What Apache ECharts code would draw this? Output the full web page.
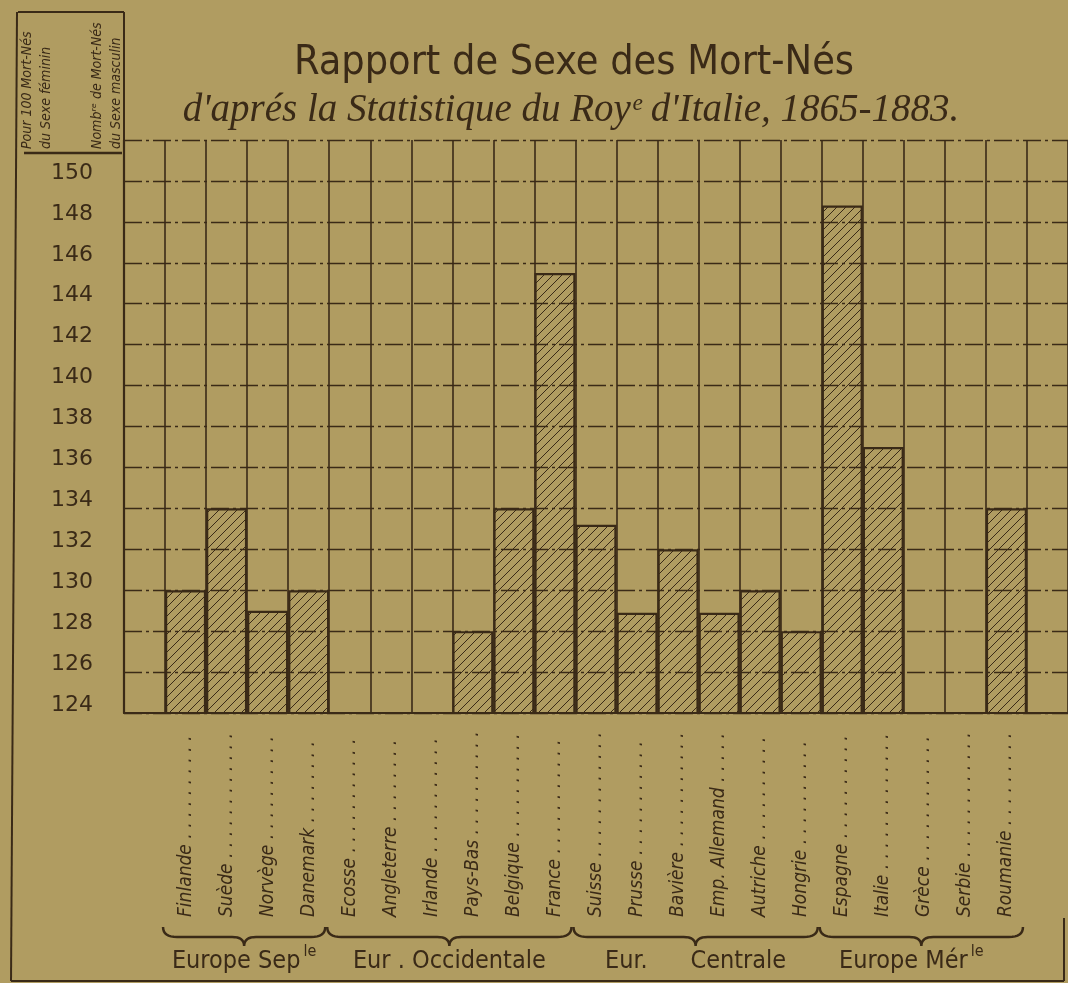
<!DOCTYPE html>
<html>
<head>
<meta charset="utf-8">
<script src="https://cdn.jsdelivr.net/npm/echarts@6/dist/echarts.min.js"></script>
<style>
html,body{margin:0;padding:0;background:#b09c61;}
#c{width:1068px;height:983px;}
</style>
</head>
<body>
<div id="c"></div>
<script>
// ---- data ----
const categories = ['', 'Finlande', 'Suède', 'Norvège', 'Danemark', 'Ecosse', 'Angleterre', 'Irlande',
  'Pays-Bas', 'Belgique', 'France', 'Suisse', 'Prusse', 'Bavière', 'Emp. Allemand', 'Autriche',
  'Hongrie', 'Espagne', 'Italie', 'Grèce', 'Serbie', 'Roumanie', ''];
const values = [null, 130, 134, 129, 130, null, null, null,
  128, 134, 145.5, 133.2, 128.9, 132, 128.9, 130,
  128, 148.8, 137, null, null, 134, null];
const groupNames = ['Europe Sep', 'Eur . Occidentale', 'Eur.      Centrale', 'Europe Mér'];
const groupSup = ['le', '', '', 'le'];
const groupSizes = [4, 6, 6, 5];
const yMin = 124, yMax = 152, yStep = 2;
const titleText = 'Rapport de Sexe des Mort-Nés';
const subTitleText = "d'aprés la Statistique du Royᵉ d'Italie, 1865-1883.";
const headerLines = ['Pour 100 Mort-Nés', 'du Sexe féminin', 'Nombʳᵉ de Mort-Nés', 'du Sexe masculin'];

// ---- styles ----
const INK = '#3a2a17';
const BG = '#b09c61';
const COND = '"DejaVu Sans Condensed", "Liberation Sans Narrow", "DejaVu Sans", sans-serif';
const LABEL_FONT_SIZE = 19;
const LABEL_FAMILY = '"DejaVu Sans Condensed", "DejaVu Sans"';

function hatch() {
  const c = document.createElement('canvas');
  c.width = 9; c.height = 9;
  const g = c.getContext('2d');
  g.strokeStyle = INK; g.lineWidth = 1;
  g.beginPath();
  g.moveTo(-1, 10); g.lineTo(10, -1);
  g.moveTo(-1, 1); g.lineTo(1, -1);
  g.moveTo(8, 10); g.lineTo(10, 8);
  g.stroke();
  return c;
}

const mctx = document.createElement('canvas').getContext('2d');
mctx.font = 'italic ' + LABEL_FONT_SIZE + 'px ' + LABEL_FAMILY;
function withLeader(name) {
  if (!name) return '';
  const target = 192;
  let s = name + ' ';
  while (mctx.measureText(s + '. ').width < target) s += '. ';
  return s;
}

const chart = echarts.init(document.getElementById('c'), null, {renderer: 'canvas'});
chart.setOption({
  backgroundColor: BG,
  animation: false,
  title: [
    {text: titleText, left: 569, top: 38, textAlign: 'center',
     textStyle: {color: INK, fontFamily: COND, fontSize: 41, fontWeight: 'normal'}},
    {text: subTitleText, left: 566, top: 86, textAlign: 'center',
     textStyle: {color: INK, fontFamily: '"Liberation Serif", serif', fontStyle: 'italic', fontSize: 39, fontWeight: 'normal'}}
  ],
  grid: {left: 124, right: 0, top: 140, bottom: 270, containLabel: false},
  xAxis: {
    type: 'category',
    data: categories,
    boundaryGap: true,
    axisLine: {show: true, lineStyle: {color: INK, width: 2.2}},
    axisTick: {show: false},
    splitLine: {show: true, interval: 0, lineStyle: {color: INK, width: 1.6}},
    axisLabel: {
      interval: 0, rotate: 90, align: 'left', verticalAlign: 'middle', margin: 204,
      color: INK, fontSize: LABEL_FONT_SIZE, fontFamily: LABEL_FAMILY, fontStyle: 'italic',
      formatter: v => withLeader(v)
    }
  },
  yAxis: {
    type: 'value', min: yMin, max: yMax, interval: yStep,
    axisLine: {show: true, lineStyle: {color: INK, width: 2.2}},
    axisTick: {show: false},
    splitLine: {show: true, lineStyle: {color: INK, width: 1.4, type: [18, 4, 3, 4]}},
    axisLabel: {
      color: INK, fontSize: 22, fontFamily: '"DejaVu Sans"', align: 'center', margin: 52,
      verticalAlign: 'bottom', lineHeight: 16,
      formatter: v => (v > 150 ? '' : String(v))
    }
  },
  series: [{
    type: 'bar',
    data: values,
    barCategoryGap: '0%',
    itemStyle: {color: {image: hatch(), repeat: 'repeat'}, borderColor: INK, borderWidth: 2.2}
  }]
});

// ---- decorative frame, header & group braces (positions taken from the axis) ----
const px = i => chart.convertToPixel({xAxisIndex: 0}, i);
const band = px(2) - px(1);
const graphics = [];
const lineStyle = {stroke: INK, lineWidth: 2};
graphics.push({type: 'line', shape: {x1: 124, y1: 12, x2: 124, y2: 141}, style: lineStyle});
graphics.push({type: 'line', shape: {x1: 18, y1: 12, x2: 124, y2: 12}, style: lineStyle});
graphics.push({type: 'line', shape: {x1: 17, y1: 12, x2: 11, y2: 981}, style: lineStyle});
graphics.push({type: 'line', shape: {x1: 11, y1: 981, x2: 1064, y2: 981}, style: lineStyle});
graphics.push({type: 'line', shape: {x1: 1064, y1: 918, x2: 1064, y2: 981}, style: lineStyle});
graphics.push({type: 'line', shape: {x1: 24, y1: 153, x2: 122, y2: 153}, style: {stroke: INK, lineWidth: 2.5}});
const headerX = [27, 46, 97, 116];
headerLines.forEach((t, k) => {
  graphics.push({type: 'text', x: headerX[k], y: 149, rotation: Math.PI / 2,
    style: {text: t, fill: INK, fontSize: 14, fontStyle: 'italic', fontFamily: COND,
      align: 'left', verticalAlign: 'middle'}});
});

function quad(p0, p1, p2, n) {
  const out = [];
  for (let i = 0; i <= n; i++) {
    const t = i / n, a = (1 - t) * (1 - t), b = 2 * (1 - t) * t, c = t * t;
    out.push([a * p0[0] + b * p1[0] + c * p2[0], a * p0[1] + b * p1[1] + c * p2[1]]);
  }
  return out;
}
let start = 1;
groupSizes.forEach((n, g) => {
  const x0 = px(start) - band / 2 - 2;
  const x1 = px(start + n - 1) + band / 2 - 4;
  const xm = (x0 + x1) / 2;
  const yE = 927, yL = 937, yT = 946;
  const pts = [].concat(
    quad([x0, yE], [x0, yL], [x0 + 14, yL], 8),
    quad([xm - 12, yL], [xm, yL], [xm, yT], 8),
    quad([xm, yT], [xm, yL], [xm + 12, yL], 8),
    quad([x1 - 14, yL], [x1, yL], [x1, yE], 8)
  );
  graphics.push({type: 'polyline', shape: {points: pts}, style: {stroke: INK, lineWidth: 2.5, fill: null}});
  const rich = '{b|' + groupNames[g] + '}' + (groupSup[g] ? '{s|' + groupSup[g] + '}' : '');
  graphics.push({type: 'text', x: xm + (g === 3 ? -10 : 0), y: 959,
    style: {text: rich, fill: INK, align: 'center', verticalAlign: 'middle',
      rich: {
        b: {fontSize: 25, fontFamily: COND, fill: INK, lineHeight: 30, verticalAlign: 'bottom'},
        s: {fontSize: 16, fontFamily: COND, fill: INK, lineHeight: 30, verticalAlign: 'top', padding: [0, 0, 0, 3]}
      }}});
  start += n;
});
chart.setOption({graphic: graphics});
</script>
</body>
</html>
